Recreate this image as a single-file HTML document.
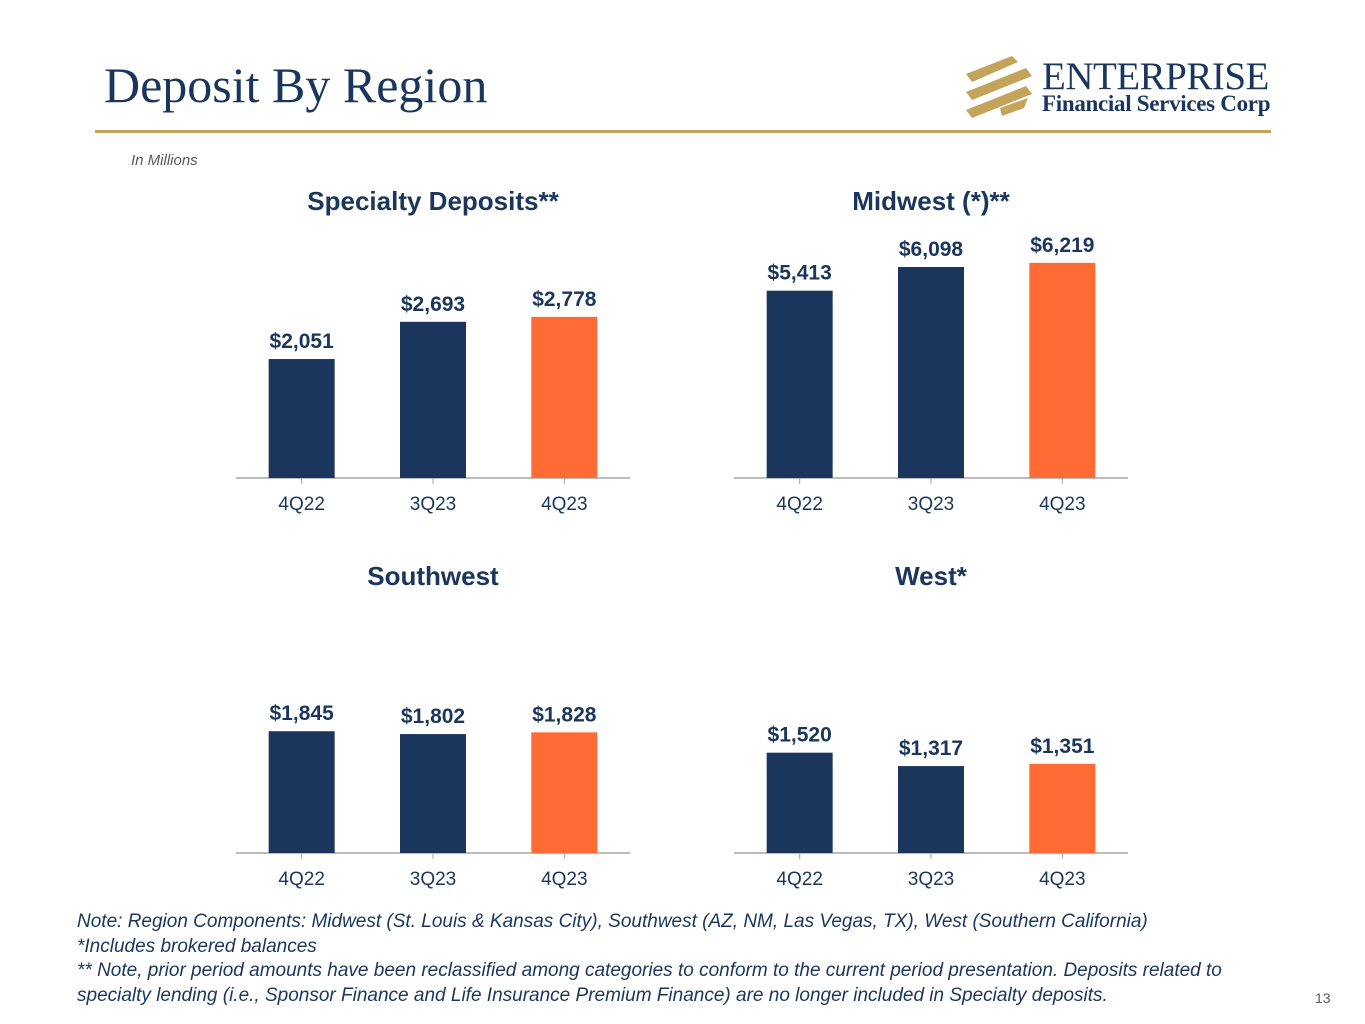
<!DOCTYPE html>
<html><head><meta charset="utf-8">
<style>
body{margin:0;width:1365px;height:1024px;background:#fff;position:relative;overflow:hidden;font-family:"Liberation Sans",sans-serif}
.abs{position:absolute}
.title{left:104px;top:56px;font-family:"Liberation Serif",serif;font-size:50px;color:#1b365d}
.rule{left:95px;top:130px;width:1176px;height:3px;background:#c4a35a}
.note{left:77px;top:910px;font-size:19px;font-style:italic;color:#1b365d;line-height:24.5px;white-space:nowrap;letter-spacing:0px}
</style></head><body>
<div class="abs title">Deposit By Region</div>
<div class="abs rule"></div>
<div class="abs" style="left:962px;top:56px;width:310px;height:66px">
<svg width="70" height="66" style="position:absolute;left:0;top:0">
<g fill="#c4a35a"><polygon points="4,18 50,0 56,6 10,26"/><polygon points="4,36 64,12 70,20 10,44"/><polygon points="4,54 64,30 70,38 10,62"/><polygon points="38,52 66,42 62,52 40,60"/></g></svg>
<div class="abs" style="left:80px;top:-2px;font-family:'Liberation Serif',serif;font-size:39px;color:#1b365d;letter-spacing:-0.5px">ENTERPRISE</div>
<div class="abs" style="left:80px;top:35px;font-family:'Liberation Serif',serif;font-size:23px;font-weight:bold;color:#1b365d;letter-spacing:-0.3px">Financial Services Corp</div>
</div>
<div class="abs" style="left:131px;top:152px;font-size:15px;font-style:italic;color:#595959">In Millions</div>
<svg class="abs" style="left:0;top:0" width="1365" height="1024" id="charts"></svg>
<div class="abs note">Note: Region Components: Midwest (St. Louis &amp; Kansas City), Southwest (AZ, NM, Las Vegas, TX), West (Southern California)<br>*Includes brokered balances<br>** Note, prior period amounts have been reclassified among categories to conform to the current period presentation. Deposits related to<br>specialty lending (i.e., Sponsor Finance and Life Insurance Premium Finance) are no longer included in Specialty deposits.</div>
<div class="abs" style="left:1315px;top:990px;font-size:14px;color:#595959">13</div>
<script>
const categories=["4Q22","3Q23","4Q23"];
const specialtyValues=[2051,2693,2778];
const midwestValues=[5413,6098,6219];
const southwestValues=[1845,1802,1828];
const westValues=[1520,1317,1351];
const chartTitles=["Specialty Deposits**","Midwest (*)**","Southwest","West*"];
const NS="http://www.w3.org/2000/svg";
const svg=document.getElementById('charts');
function mk(tag,attrs,text){const e=document.createElementNS(NS,tag);for(const k in attrs)e.setAttribute(k,attrs[k]);if(text!==undefined)e.textContent=text;svg.appendChild(e);return e;}
function fmt(v){return "$"+v.toLocaleString("en-US");}
function chart(idx,values,x0,base,scale){
  const axisW=394;
  const t=mk('text',{x:x0+197,y:base-268,'text-anchor':'middle','font-size':26,'font-weight':'bold',fill:'#1b365d','font-family':'Liberation Sans'},chartTitles[idx]);
  
  
  const ax=mk('line',{x1:x0,y1:base,x2:x0+axisW,y2:base,stroke:'#a6a6a6','stroke-width':1.5});
  
  
  const step=axisW/categories.length;
  categories.forEach((c,i)=>{
    const cx=x0+step*(i+0.5);
    const h=values[i]*scale;
    const r=mk('rect',{x:cx-33,y:base-h,width:66,height:h,fill:i===2?'#ff6b35':'#1b365d'});
    
    
    const tk=mk('line',{x1:cx,y1:base,x2:cx,y2:base+6,stroke:'#a6a6a6','stroke-width':1});
    
    
    const lb=mk('text',{x:cx,y:base+32,'text-anchor':'middle','font-size':19,fill:'#1b365d','font-family':'Liberation Sans'},c);
    
    
    const vl=mk('text',{x:cx,y:base-h-11,'text-anchor':'middle','font-size':21,'font-weight':'bold',fill:'#1b365d','font-family':'Liberation Sans'},fmt(values[i]));
    
    
  });
}
chart(0,specialtyValues,236,478,0.058);
chart(1,midwestValues,734,478,0.0346);
chart(2,southwestValues,236,853,0.066);
chart(3,westValues,734,853,0.066);
</script>
</body></html>
